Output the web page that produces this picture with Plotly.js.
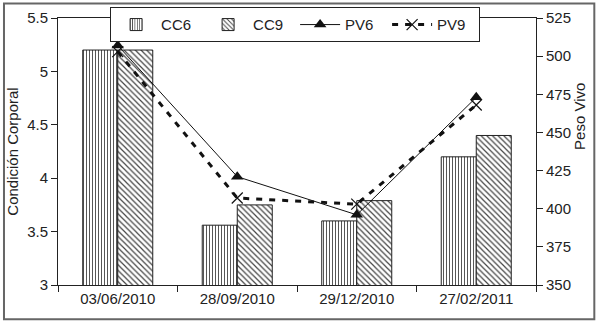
<!DOCTYPE html>
<html>
<head>
<meta charset="utf-8">
<script src="https://cdn.plot.ly/plotly-3.0.1.min.js"></script>
<style>html,body{margin:0;padding:0;background:#fff;}#chart{width:600px;height:325px;}</style>
</head>
<body>
<div id="chart"></div>
<script>
const categories = ["03/06/2010", "28/09/2010", "29/12/2010", "27/02/2011"];
const cc6 = [5.2, 3.56, 3.6, 4.2];
const cc9 = [5.2, 3.75, 3.79, 4.4];
const pv6 = [507, 421, 396, 473];
const pv9 = [503, 407, 403, 468];

const font = {family: "Liberation Sans, Arial, sans-serif", size: 15, color: "#222"};

const traces = [
  {type: "bar", name: "CC6", x: categories, y: cc6, yaxis: "y",
   marker: {color: "white", line: {color: "#222", width: 1},
            pattern: {shape: "|", fgcolor: "#444", bgcolor: "white", size: 3, solidity: 0.3}}},
  {type: "bar", name: "CC9", x: categories, y: cc9, yaxis: "y",
   marker: {color: "white", line: {color: "#222", width: 1},
            pattern: {shape: "\\", fgcolor: "#444", bgcolor: "white", size: 4, solidity: 0.3}}},
  {type: "scatter", mode: "lines+markers", name: "PV6", x: categories, y: pv6, yaxis: "y2",
   line: {color: "#111", width: 1},
   marker: {symbol: "triangle-up", size: 11, color: "#111"}},
  {type: "scatter", mode: "lines+markers", name: "PV9", x: categories, y: pv9, yaxis: "y2",
   line: {color: "#111", width: 3, dash: "6px,7px"},
   marker: {symbol: "x-thin", size: 11, color: "#111", line: {color: "#111", width: 1.2}}}
];

const layout = {
  width: 600, height: 325,
  margin: {l: 58, r: 64, t: 18, b: 40, autoexpand: false},
  paper_bgcolor: "white", plot_bgcolor: "white",
  font: font,
  showlegend: true,
  barmode: "group", bargap: 0.414, bargroupgap: 0,
  xaxis: {type: "category", showline: true, linecolor: "#222", linewidth: 1, mirror: true,
          ticks: "outside", tickson: "boundaries", ticklen: 6, tickcolor: "#222",
          showgrid: false, zeroline: false, tickfont: font},
  yaxis: {range: [3, 5.5], dtick: 0.5, showline: true, linecolor: "#222", linewidth: 1,
          ticks: "outside", ticklen: 6, tickcolor: "#222", showgrid: false, zeroline: false,
          tickfont: font,
          title: {text: "Condición Corporal", font: font, standoff: 4}},
  yaxis2: {range: [350, 525], dtick: 25, overlaying: "y", side: "right",
           showline: true, linecolor: "#222", linewidth: 1,
           ticks: "outside", ticklen: 6, tickcolor: "#222", showgrid: false, zeroline: false,
           tickfont: font},
  legend: {orientation: "h", x: 0.109, xanchor: "left", y: 1.04, yanchor: "top",
           bgcolor: "white", bordercolor: "#222", borderwidth: 1, font: font,
           itemwidth: 40, entrywidth: 37, entrywidthmode: "pixels", tracegroupgap: 0},
  annotations: [
    {text: "Peso Vivo", xref: "paper", yref: "paper", x: 1.092, y: 0.633,
     textangle: -90, showarrow: false, font: font, xanchor: "center", yanchor: "middle"}
  ],
  shapes: [
    {type: "rect", xref: "paper", yref: "paper", x0: -0.113, x1: 1.122, y0: -0.128, y1: 1.054,
     line: {color: "#666", width: 2}, fillcolor: "rgba(0,0,0,0)", layer: "below"}
  ]
};

Plotly.newPlot("chart", traces, layout, {displayModeBar: false, staticPlot: true});
</script>
</body>
</html>
